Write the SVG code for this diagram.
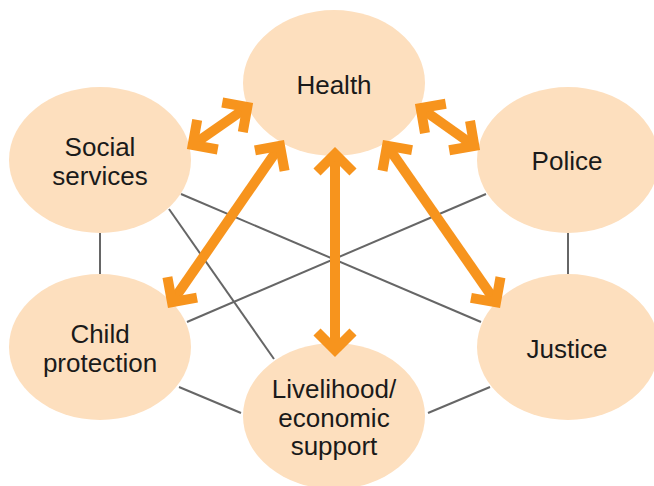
<svg xmlns="http://www.w3.org/2000/svg" width="654" height="486" viewBox="0 0 654 486">
<style>
.node{fill:#FDDFBE}
.lbl{font-family:"Liberation Sans",Arial,sans-serif;font-size:26px;fill:#1a1a1a;text-anchor:middle}
.link{stroke:#666666;stroke-width:2;fill:none}
.arr{stroke:#F7941D;stroke-width:10;fill:none;marker-start:url(#chev);marker-end:url(#chev)}
</style>
<defs>
<marker id="chev" markerUnits="userSpaceOnUse" viewBox="-30 -30 60 60" markerWidth="60" markerHeight="60" refX="0" refY="0" orient="auto-start-reverse" overflow="visible">
<path d="M-18,-18 L0,0 L-18,18" fill="none" stroke="#F7941D" stroke-width="10" stroke-linejoin="miter" stroke-miterlimit="4"/>
</marker>
</defs>
<g id="links">
<line class="link" x1="100" y1="225" x2="100" y2="280"/>
<line class="link" x1="568" y1="225" x2="568" y2="280"/>
<line class="link" x1="181" y1="194" x2="481" y2="322"/>
<line class="link" x1="169" y1="209" x2="274" y2="359"/>
<line class="link" x1="486" y1="194" x2="187" y2="322"/>
<line class="link" x1="179" y1="387" x2="241" y2="413"/>
<line class="link" x1="490" y1="387" x2="428" y2="413"/>
</g>
<g id="health"><ellipse class="node" cx="334" cy="83" rx="91" ry="73"/></g>
<g id="social"><ellipse class="node" cx="100" cy="160" rx="91" ry="73"/></g>
<g id="police"><ellipse class="node" cx="568" cy="160" rx="91" ry="73"/></g>
<g id="child"><ellipse class="node" cx="100" cy="347" rx="91" ry="73"/></g>
<g id="justice"><ellipse class="node" cx="568" cy="347" rx="91" ry="73"/></g>
<g id="livelihood"><ellipse class="node" cx="334" cy="416" rx="91" ry="73"/></g>
<g id="arrows">
<line class="arr" x1="192.7" y1="145" x2="247.3" y2="107"/>
<line class="arr" x1="474.3" y1="146" x2="420.7" y2="108"/>
<line class="arr" x1="172" y1="302.2" x2="280" y2="145.8"/>
<line class="arr" x1="335" y1="350" x2="335" y2="154"/>
<line class="arr" x1="496" y1="302.3" x2="387" y2="145.7"/>
</g>
<g id="labels">
<text class="lbl" x="334" y="94">Health</text>
<text class="lbl" x="100" y="156">Social</text>
<text class="lbl" x="100" y="185">services</text>
<text class="lbl" x="567" y="170">Police</text>
<text class="lbl" x="100" y="343">Child</text>
<text class="lbl" x="100" y="372">protection</text>
<text class="lbl" x="567" y="358">Justice</text>
<text class="lbl" x="334" y="398">Livelihood/</text>
<text class="lbl" x="334" y="427">economic</text>
<text class="lbl" x="334" y="455">support</text>
</g>
</svg>
